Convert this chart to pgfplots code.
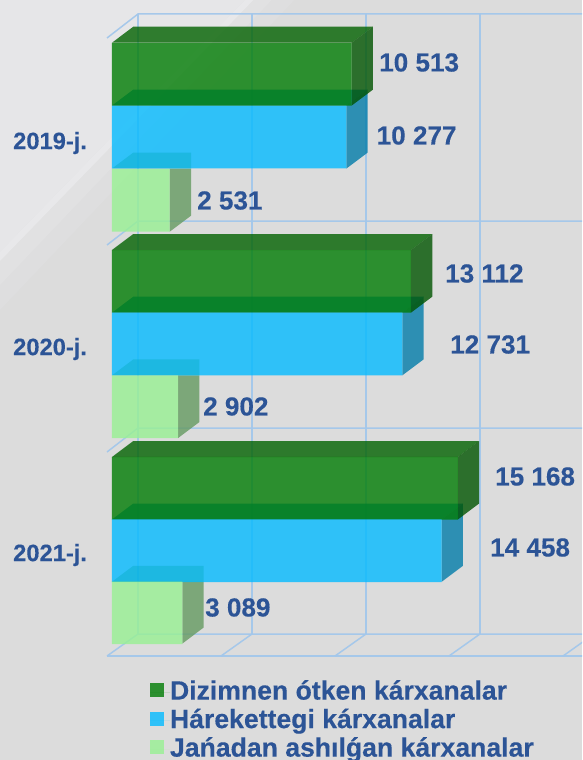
\documentclass[border=0pt]{standalone}
\usepackage{pgfplots}
\pgfplotsset{compat=1.18}
\usepackage{fontspec}
\setmainfont[BoldFeatures={FakeBold=0.25}]{Liberation Sans}
\definecolor{txt}{HTML}{2C5496}
\definecolor{gridc}{HTML}{A3C7EB}
\definecolor{gFront}{RGB}{1,124,4}
\definecolor{gTop}{RGB}{2,98,0}
\definecolor{gSide}{RGB}{1,84,0}
\definecolor{bFront}{RGB}{4,187,255}
\definecolor{bSide}{RGB}{2,124,169}
\definecolor{bTop}{RGB}{0,139,189}
\definecolor{lFront}{RGB}{152,241,147}
\definecolor{lSide}{RGB}{101,154,97}
\definecolor{lTop}{RGB}{0,170,190}
\definecolor{bgBase}{RGB}{220,220,220}
\definecolor{bgLight}{RGB}{230,230,232}
\definecolor{bgBand}{RGB}{232,232,234}
\definecolor{bgFadeA}{RGB}{225,225,226}
\definecolor{bgFadeB}{RGB}{222,222,223}
\pgfplotsset{
  gridl/.style={gridc,line width=1.5pt,forget plot,opacity=0.95},
  face/.style={draw=none,fill=#1,fill opacity=0.8,forget plot},
}
\tikzset{
  lab/.style={anchor=west,inner sep=0pt,text=txt,font=\fontsize{26.1}{26}\selectfont\bfseries},
  yr/.style={anchor=west,inner sep=0pt,text=txt,font=\fontsize{23.7}{24}\selectfont\bfseries},
}
\begin{document}
\begin{tikzpicture}
\begin{axis}[
  scale only axis,width=582pt,height=760pt,
  xmin=-4912,xmax=20614,ymin=0,ymax=760,y dir=reverse,
  axis line style={draw=none},tick style={draw=none},
  xtick=\empty,ytick=\empty,
  clip=true,
  legend style={at={(axis cs:1667,681.6)},anchor=north west,draw=none,fill=none,inner sep=0pt,outer sep=0pt,
    font=\fontsize{26.6}{27}\selectfont\bfseries,text=txt,
    row sep=7.5pt,
    nodes={text height=18pt,text depth=3pt,inner sep=0pt}},
  legend cell align=left,
  legend image code/.code={\fill[#1] (0pt,-5pt) rectangle (14pt,9pt);\path (0pt,0pt) -- (20pt,0pt);},
]
% background
\addplot[draw=none,fill=bgBase,forget plot] coordinates {(-4912,0)(20614,0)(20614,760)(-4912,760)} --cycle;
\addplot[draw=none,fill=bgFadeB,forget plot] coordinates {(-4912,0)(8000,0)(-4912,310)} --cycle;
\addplot[draw=none,fill=bgFadeA,forget plot] coordinates {(-4912,0)(7000,0)(-4912,285)} --cycle;
\addplot[draw=none,fill=bgLight,forget plot] coordinates {(-4912,0)(5833,0)(-4912,252)} --cycle;
\addplot[draw=none,fill=bgBand,forget plot] coordinates {(-4912,252)(5833,0)(6200,0)(-4912,261)} --cycle;
% back wall and floor
\addplot[gridl] coordinates {(-219,38)(1140,14)(21000,14)};
\addplot[gridl] coordinates {(-219,245)(1140,221)(21000,221)};
\addplot[gridl] coordinates {(-219,452)(1140,428)(21000,428)};
\addplot[gridl] coordinates {(-219,656)(1140,634)(21000,634)};
\addplot[gridl] coordinates {(-219,656)(21000,656)};
\addplot[gridl] coordinates {(1140,14)(1140,634)};
\addplot[gridl] coordinates {(6140,14)(6140,634)};
\addplot[gridl] coordinates {(11140,14)(11140,634)};
\addplot[gridl] coordinates {(16140,14)(16140,634)};
\addplot[gridl] coordinates {(4781,656)(6140,634)};
\addplot[gridl] coordinates {(9781,656)(11140,634)};
\addplot[gridl] coordinates {(14781,656)(16140,634)};
\addplot[gridl] coordinates {(19781,656)(21140,634)};
% top and side faces of the bars, 2019
\addplot[face=bTop] coordinates {(0,105.6)(934,89.6)(11211,89.6)(10277,105.6)} --cycle;
\addplot[face=bSide] coordinates {(10277,105.6)(11211,89.6)(11211,152.6)(10277,168.6)} --cycle;
\addplot[face=gTop] coordinates {(0,42.7)(934,26.7)(11447,26.7)(10513,42.7)} --cycle;
\addplot[face=gSide] coordinates {(10513,42.7)(11447,26.7)(11447,89.6)(10513,105.6)} --cycle;
\addplot[face=lSide] coordinates {(2531,168.6)(3465,168.6)(3465,215.7)(2531,231.7)} --cycle;
% 2020
\addplot[face=bTop] coordinates {(0,312.7)(934,296.7)(13665,296.7)(12731,312.7)} --cycle;
\addplot[face=bSide] coordinates {(12731,312.7)(13665,296.7)(13665,359.4)(12731,375.4)} --cycle;
\addplot[face=gTop] coordinates {(0,250)(934,234)(14046,234)(13112,250)} --cycle;
\addplot[face=gSide] coordinates {(13112,250)(14046,234)(14046,296.7)(13112,312.7)} --cycle;
\addplot[face=lSide] coordinates {(2902,375.4)(3836,375.4)(3836,422)(2902,438)} --cycle;
% 2021
\addplot[face=bTop] coordinates {(0,519.5)(934,503.5)(15392,503.5)(14458,519.5)} --cycle;
\addplot[face=bSide] coordinates {(14458,519.5)(15392,503.5)(15392,565.8)(14458,581.8)} --cycle;
\addplot[face=gTop] coordinates {(0,457)(934,441)(16102,441)(15168,457)} --cycle;
\addplot[face=gSide] coordinates {(15168,457)(16102,441)(16102,503.5)(15168,519.5)} --cycle;
\addplot[face=lSide] coordinates {(3089,581.8)(4023,581.8)(4023,627.5)(3089,643.5)} --cycle;
% front faces
\addplot[xbar,bar width=62.7,bar shift=0pt,draw=none,fill=gFront,fill opacity=0.8] coordinates {(10513,74.15)(13112,281.35)(15168,488.25)};
\addplot[xbar,bar width=62.7,bar shift=0pt,draw=none,fill=bFront,fill opacity=0.8] coordinates {(10277,137.1)(12731,344.05)(14458,550.65)};
\addplot[xbar,bar width=62.7,bar shift=0pt,draw=none,fill=lFront,fill opacity=0.8] coordinates {(2531,200.15)(2902,406.7)(3089,612.65)};
% top of the third bars, over the second
\addplot[draw=none,fill=lTop,fill opacity=0.38,forget plot] coordinates {(0,168.6)(934,152.6)(3465,152.6)(3465,168.6)} --cycle;
\addplot[draw=none,fill=lTop,fill opacity=0.38,forget plot] coordinates {(0,375.4)(934,359.4)(3836,359.4)(3836,375.4)} --cycle;
\addplot[draw=none,fill=lTop,fill opacity=0.38,forget plot] coordinates {(0,581.8)(934,565.8)(4023,565.8)(4023,581.8)} --cycle;
\legend{Dizimnen ótken kárxanalar,Hárekettegi kárxanalar,Jańadan ashılǵan kárxanalar}
% labels
\node[lab] at (axis cs:11711,62.5) {10 513};
\node[lab] at (axis cs:11601,135.5) {10 277};
\node[lab] at (axis cs:3728,200.5) {2 531};
\node[lab] at (axis cs:14605,273.5) {13 112};
\node[lab] at (axis cs:14825,344.5) {12 731};
\node[lab] at (axis cs:3991,406.5) {2 902};
\node[lab] at (axis cs:16798,476.5) {15 168};
\node[lab] at (axis cs:16579,547.5) {14 458};
\node[lab] at (axis cs:4079,607.5) {3 089};
\node[yr] at (axis cs:-4342,143) {2019-j.};
\node[yr] at (axis cs:-4342,349) {2020-j.};
\node[yr] at (axis cs:-4342,555) {2021-j.};
\end{axis}
\end{tikzpicture}
\end{document}
